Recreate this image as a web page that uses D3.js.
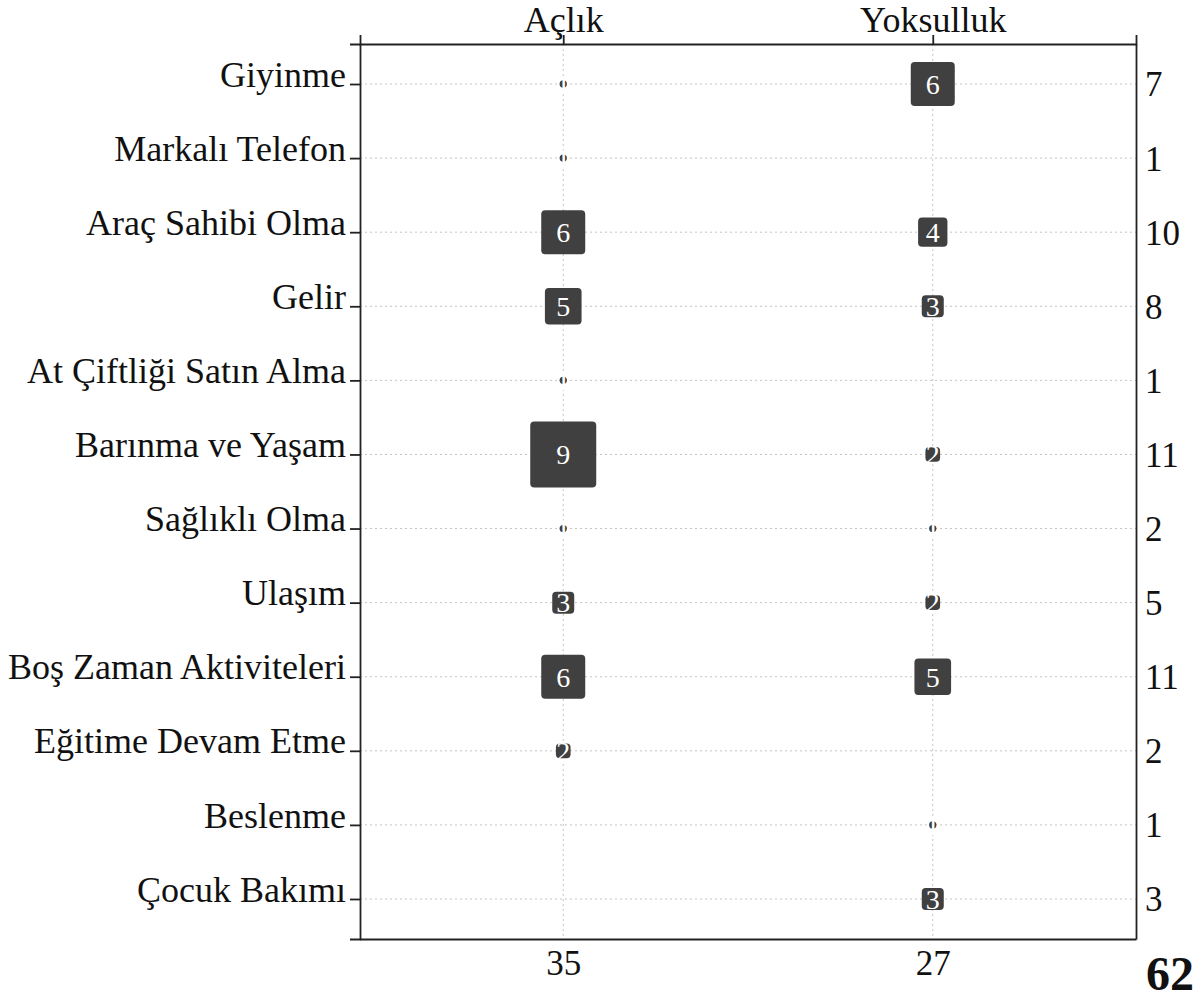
<!DOCTYPE html>
<html>
<head>
<meta charset="utf-8">
<script src="https://cdnjs.cloudflare.com/ajax/libs/d3/7.8.5/d3.min.js"></script>
<style>
  body { margin: 0; background: #fff; }
  svg { display: block; }
</style>
</head>
<body>
<div id="chart"></div>
<script>
// category rows, top to bottom
var categories = ["Giyinme", "Markalı Telefon", "Araç Sahibi Olma", "Gelir",
  "At Çiftliği Satın Alma", "Barınma ve Yaşam", "Sağlıklı Olma", "Ulaşım",
  "Boş Zaman Aktiviteleri", "Eğitime Devam Etme", "Beslenme", "Çocuk Bakımı"];
var columns = ["Açlık", "Yoksulluk"];

// counts per row for each column
var aclik     = [1, 1, 6, 5, 1, 9, 1, 3, 6, 2, 0, 0];
var yoksulluk = [6, 0, 4, 3, 0, 2, 1, 2, 5, 0, 1, 3];

var values = { "Açlık": aclik, "Yoksulluk": yoksulluk };

var rowTotals = categories.map(function(c, i) { return aclik[i] + yoksulluk[i]; });
var colTotals = columns.map(function(c) { return d3.sum(values[c]); });
var grandTotal = d3.sum(colTotals);

var width = 1204, height = 999;
var plotLeft = 360, plotRight = 1136, plotTop = 44, plotBottom = 939;
var serif = "'Liberation Serif', 'Times New Roman', serif";

var svg = d3.select("#chart").append("svg")
  .attr("width", width)
  .attr("height", height);

var x = d3.scalePoint().domain(columns).range([plotLeft, plotRight]).padding(0.55);
var y = d3.scalePoint().domain(categories).range([plotTop, plotBottom]).padding(0.54);
var size = d3.scaleLinear().domain([0, 9]).range([0, 66]);

// dotted grid
var grid = svg.append("g")
  .attr("stroke", "#c4c4c4")
  .attr("stroke-width", 1)
  .attr("stroke-dasharray", "2,3");

grid.selectAll("line.h").data(categories).enter().append("line")
  .attr("class", "h")
  .attr("x1", plotLeft).attr("x2", plotRight)
  .attr("y1", function(d) { return y(d); })
  .attr("y2", function(d) { return y(d); });

grid.selectAll("line.v").data(columns).enter().append("line")
  .attr("class", "v")
  .attr("y1", plotTop).attr("y2", plotBottom)
  .attr("x1", function(d) { return x(d); })
  .attr("x2", function(d) { return x(d); });

// cells
var cells = [];
categories.forEach(function(c, i) {
  columns.forEach(function(col) {
    if (values[col][i] > 0) cells.push({ row: c, col: col, v: values[col][i] });
  });
});

var cell = svg.append("g").selectAll("g").data(cells).enter().append("g")
  .attr("transform", function(d) { return "translate(" + x(d.col) + "," + y(d.row) + ")"; });

cell.append("rect")
  .attr("x", function(d) { return -size(d.v) / 2; })
  .attr("y", function(d) { return -size(d.v) / 2; })
  .attr("width", function(d) { return size(d.v); })
  .attr("height", function(d) { return size(d.v); })
  .attr("rx", 4)
  .attr("fill", "#404040");

cell.append("text")
  .attr("text-anchor", "middle")
  .attr("dy", "0.35em")
  .attr("font-family", serif)
  .attr("font-size", 28)
  .attr("fill", "#fff")
  .text(function(d) { return d.v; });

// axes
function styleAxis(g, fontSize) {
  g.attr("font-family", serif)
   .attr("font-size", fontSize)
   .attr("color", "#111");
  g.selectAll("path, line").attr("stroke-width", 1.8).attr("stroke", "#222");
}

var leftAxis = svg.append("g")
  .attr("transform", "translate(" + plotLeft + ",0)")
  .call(d3.axisLeft(y).tickSize(10).tickSizeOuter(10).tickPadding(4));
styleAxis(leftAxis, 36);
leftAxis.selectAll("text").attr("dy", "0.06em");

var topAxis = svg.append("g")
  .attr("transform", "translate(0," + plotTop + ")")
  .call(d3.axisTop(x).tickSize(9).tickSizeOuter(9).tickPadding(3));
styleAxis(topAxis, 36);

var bottomAxis = svg.append("g")
  .attr("transform", "translate(0," + plotBottom + ")")
  .call(d3.axisBottom(x).tickSize(0).tickPadding(11)
    .tickFormat(function(d, i) { return colTotals[i]; }));
styleAxis(bottomAxis, 35);

var rightAxis = svg.append("g")
  .attr("transform", "translate(" + plotRight + ",0)")
  .call(d3.axisRight(y).tickSize(0).tickPadding(9)
    .tickFormat(function(d, i) { return rowTotals[i]; }));
styleAxis(rightAxis, 35);
rightAxis.selectAll("text").attr("dy", "0.34em");

// grand total
svg.append("text")
  .attr("x", 1170)
  .attr("y", 990)
  .attr("text-anchor", "middle")
  .attr("font-family", serif)
  .attr("font-weight", "bold")
  .attr("font-size", 48)
  .attr("fill", "#111")
  .text(grandTotal);
</script>
</body>
</html>
